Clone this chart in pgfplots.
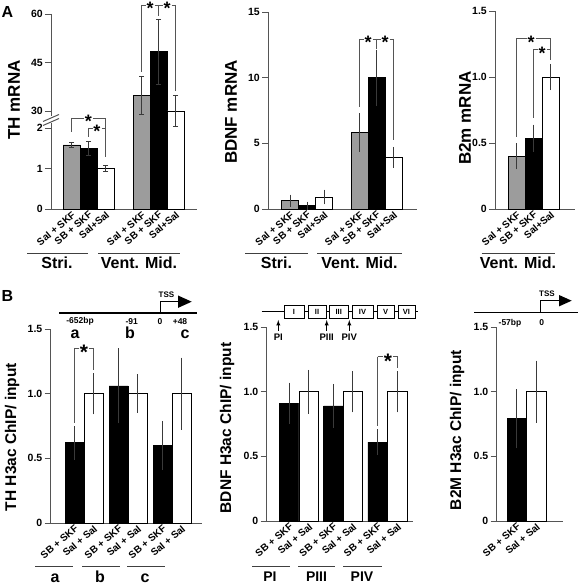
\documentclass[border=0pt]{standalone}
\usepackage{fontspec}
\setmainfont{Liberation Sans}
\usepackage{pgfplots}
\pgfplotsset{compat=1.18}
\definecolor{axgray}{HTML}{555555}
\definecolor{bargray}{HTML}{9C9C9C}
\definecolor{errgray}{HTML}{3A3A3A}
\pgfplotsset{
  panel/.style={
    scale only axis, anchor=south west, clip=false,
    axis x line*=bottom, axis y line*=left,
    axis line style={draw=axgray, line width=0.9pt},
    ytick align=outside, major tick length=6pt,
    ytick style={draw=axgray, line width=0.9pt},
    xtick style={draw=none},
    /pgf/number format/assume math mode=true,
    yticklabel style={font=\fontsize{10.5}{11}\selectfont\bfseries, inner sep=2pt},
    xticklabel style={font=\fontsize{10}{10}\selectfont\bfseries, rotate=40, anchor=north east, inner sep=1pt},
  },
  bars/.style={ybar, bar shift=0pt, draw=black, line width=0.7pt},
  ebar/.style={error bars/.cd, y dir=both, y explicit,
     error bar style={draw=errgray, line width=0.8pt},
     error mark options={draw=errgray, line width=0.8pt, mark size=2.5pt}},
  eline/.style={draw=errgray, line width=0.8pt, mark=-, mark size=2.5pt, mark options={solid, draw=errgray, line width=0.8pt}},
}
\newcommand{\eline}[3]{\addplot[eline] coordinates {(#1,#2) (#1,#3)};}
\tikzset{
  brk/.style={draw=axgray, line width=0.8pt},
  ul/.style={draw=black!75, line width=0.9pt},
  starA/.style={font=\fontsize{18}{18}\selectfont\bfseries, inner sep=0pt},
  starB/.style={font=\fontsize{21}{21}\selectfont\bfseries, inner sep=0pt},
  glab/.style={font=\fontsize{16}{16}\selectfont\bfseries, anchor=base},
  ylabA/.style={rotate=90, font=\fontsize{17}{17}\selectfont\bfseries},
  ylabB/.style={rotate=90, font=\fontsize{15.5}{15.5}\selectfont\bfseries},
  small/.style={font=\fontsize{8.5}{8.5}\selectfont\bfseries, inner sep=0pt},
}
% bracket: x1 x2 y xstar
\newcommand{\hbr}[4]{\draw[brk] (#1,#3)--({#4-4.5},#3) ({#4+4.5},#3)--(#2,#3); \node[starA] at (#4,{#3+3.8}) {*};}
\newcommand{\hbrB}[4]{\draw[brk] (#1,#3)--({#4-5},#3) ({#4+5},#3)--(#2,#3); \node[starB] at (#4,{#3+4.4}) {*};}
\begin{document}
\begin{tikzpicture}
\useasboundingbox (0,0) rectangle (580pt,585pt);

% ---------------- Panel A: TH mRNA (broken axis)
\begin{axis}[panel, at={(51pt,376pt)}, width=146pt, height=195pt,
  xmin=51, xmax=197, ymin=0, ymax=60,
  y coord trafo/.code={\pgfmathparse{(#1>3)*(2.42+(#1-30)*0.0798)+(#1<=3)*(#1)}},
  ytick={0,1,2,30,45,60}, yticklabels={0,1,2,30,45,60},
  y axis line style={draw=none},
  xtick={71.5,88.5,105.5,141.5,158.5,175.5},
  xticklabels={Sal + SKF,SB + SKF,Sal+Sal,Sal + SKF,SB + SKF,Sal+Sal},
]
\addplot[bars, bar width=17, fill=bargray] coordinates {(71.5,1.58) (141.5,34.9)};
\addplot[bars, bar width=17, fill=black] coordinates {(88.5,1.50) (158.5,48.3)};
\addplot[bars, bar width=17, fill=white] coordinates {(105.5,1.01) (175.5,30.0)};
\eline{71.5}{1.52}{1.64}
\eline{88.5}{1.33}{1.67}
\eline{105.5}{0.94}{1.08}
\eline{141.5}{29.0}{40.6}
\eline{158.5}{38.2}{58.4}
\eline{175.5}{25.3}{34.8}
\end{axis}

% ---------------- Panel A: BDNF mRNA
\begin{axis}[panel, at={(268pt,376pt)}, width=149pt, height=197pt,
  xmin=268, xmax=417, ymin=0, ymax=15,
  ytick={0,5,10,15}, yticklabels={0,5,10,15},
  xtick={290,307,324,359.5,376.5,393.5},
  xticklabels={Sal + SKF,SB + SKF,Sal+Sal,Sal + SKF,SB + SKF,Sal+Sal},
]
\addplot[bars, bar width=17, fill=bargray, ebar] coordinates {(290,0.63) +- (0,0.27) (359.5,5.83) +- (0,1.28)};
\addplot[bars, bar width=17, fill=black, ebar] coordinates {(307,0.25) +- (0,0.12) (376.5,10.0) +- (0,1.95)};
\addplot[bars, bar width=17, fill=white, ebar] coordinates {(324,0.92) +- (0,0.37) (393.5,3.93) +- (0,0.6)};
\end{axis}

% ---------------- Panel A: B2m mRNA
\begin{axis}[panel, at={(495pt,376pt)}, width=80pt, height=198pt,
  xmin=495, xmax=575, ymin=0, ymax=1.5,
  ytick={0,0.5,1,1.5}, yticklabels={0,0.5,1.0,1.5},
  xtick={516.5,533.5,550.5},
  xticklabels={Sal + SKF,SB + SKF,Sal+Sal},
]
\addplot[bars, bar width=17, fill=bargray, ebar] coordinates {(516.5,0.40) +- (0,0.08)};
\addplot[bars, bar width=17, fill=black, ebar] coordinates {(533.5,0.535) +- (0,0.085)};
\addplot[bars, bar width=17, fill=white, ebar] coordinates {(550.5,1.0) +- (0,0.08)};
\end{axis}

% ---------------- Panel B: TH H3ac
\begin{axis}[panel, at={(50.5pt,62pt)}, width=151pt, height=194pt,
  xmin=50.5, xmax=201.5, ymin=0, ymax=1.5,
  ytick={0,0.5,1,1.5}, yticklabels={0,0.5,1.0,1.5},
  xtick={74.5,93.5,118.5,137.5,162.5,181.5},
  xticklabels={SB + SKF,Sal + Sal,SB + SKF,Sal + Sal,SB + SKF,Sal + Sal},
]
\addplot[bars, bar width=19, fill=black, ebar] coordinates {(74.5,0.62) +- (0,0.11) (118.5,1.06) +- (0,0.27) (162.5,0.60) +- (0,0.17)};
\addplot[bars, bar width=19, fill=white, ebar] coordinates {(93.5,1.0) +- (0,0.14) (137.5,1.0) +- (0,0.13) (181.5,1.0) +- (0,0.26)};
\end{axis}

% ---------------- Panel B: BDNF H3ac
\begin{axis}[panel, at={(266.5pt,64pt)}, width=146.5pt, height=194pt,
  xmin=266.5, xmax=413, ymin=0, ymax=1.5,
  ytick={0,0.5,1,1.5}, yticklabels={0,0.5,1.0,1.5},
  xtick={289.3,308.7,333.3,352.8,377.7,397.5},
  xticklabels={SB + SKF,Sal + Sal,SB + SKF,Sal + Sal,SB + SKF,Sal + Sal},
]
\addplot[bars, bar width=19.5, fill=black, ebar] coordinates {(289.3,0.91) +- (0,0.14) (333.3,0.89) +- (0,0.15) (377.7,0.61) +- (0,0.08)};
\addplot[bars, bar width=19.5, fill=white, ebar] coordinates {(308.7,1.0) +- (0,0.15) (352.8,1.0) +- (0,0.14) (397.5,1.0) +- (0,0.14)};
\end{axis}

% ---------------- Panel B: B2M H3ac
\begin{axis}[panel, at={(496.5pt,64pt)}, width=66.5pt, height=194pt,
  xmin=496.5, xmax=563, ymin=0, ymax=1.5,
  ytick={0,0.5,1,1.5}, yticklabels={0,0.5,1.0,1.5},
  xtick={516.7,536.3},
  xticklabels={SB + SKF,Sal + Sal},
]
\addplot[bars, bar width=19.5, fill=black, ebar] coordinates {(516.7,0.79) +- (0,0.21)};
\addplot[bars, bar width=19.5, fill=white, ebar] coordinates {(536.3,1.0) +- (0,0.22)};
\end{axis}

% ---------------- annotations in pixel coordinates
\begin{scope}[x=1pt, y=-1pt, shift={(0pt,585pt)}]
\node[font=\fontsize{16}{16}\selectfont\bfseries] at (7.5,12.5) {A};
\node[font=\fontsize{16}{16}\selectfont\bfseries] at (7.5,296.5) {B};

\node[ylabA] at (14,100) {TH mRNA};
\node[ylabA] at (231,112) {BDNF mRNA};
\node[ylabA] at (465,118) {B2m mRNA};
\node[ylabB] at (12,437) {TH H3ac ChIP/ input};
\node[ylabB] at (227,428) {BDNF H3ac ChIP/ input};
\node[ylabB] at (457,430) {B2M H3ac ChIP/ input};

% TH broken y axis
\draw[axgray, line width=0.9pt] (51,14)--(51,116.5) (51,123.5)--(51,209);
\draw[axgray, line width=1pt] (43,121.5)--(59,114.5) (43,125.5)--(59,118.5);

% brackets panel A TH
\hbr{71.5}{105.5}{118}{88.5}
\draw[brk] (71.5,118)--(71.5,132) (105.5,118)--(105.5,157);
\hbr{88.5}{105.5}{128}{97}
\draw[brk] (88.5,128)--(88.5,137);
\draw[brk] (141.5,5)--(145.5,5) (154.5,5)--(162.5,5) (171.5,5)--(175.5,5);
\node[starA] at (150,8.8) {*};
\node[starA] at (167,8.8) {*};
\draw[brk] (141.5,5)--(141.5,72) (158.5,5)--(158.5,16) (175.5,5)--(175.5,91);

% brackets panel A BDNF
\draw[brk] (359.5,39)--(363.5,39) (372.5,39)--(380.5,39) (389.5,39)--(393.5,39);
\node[starA] at (368,42.8) {*};
\node[starA] at (385,42.8) {*};
\draw[brk] (359.5,39)--(359.5,107) (376.5,39)--(376.5,49) (393.5,39)--(393.5,140);

% brackets panel A B2m
\hbr{516.5}{550.5}{38.5}{531}
\draw[brk] (516.5,38.5)--(516.5,137) (550.5,38.5)--(550.5,60);
\hbr{533.5}{550.5}{49.5}{542}
\draw[brk] (533.5,49.5)--(533.5,118);

% brackets panel B
\hbrB{74.5}{93.5}{348}{84}
\draw[brk] (74.5,348)--(74.5,423) (93.5,348)--(93.5,370);
\hbrB{377.7}{397.5}{356.7}{388}
\draw[brk] (377.7,356.7)--(377.7,426) (397.5,356.7)--(397.5,368);

% group labels panel A
\draw[ul] (27,253)--(88,253) (98,253)--(180,253);
\node[glab] at (57,269) {Stri.};
\node[glab] at (139,269) {Vent. Mid.};
\draw[ul] (245,253)--(308,253) (317,253)--(402,253);
\node[glab] at (276.5,269) {Stri.};
\node[glab] at (359.5,269) {Vent. Mid.};
\draw[ul] (481.5,253)--(555,253);
\node[glab] at (518,269) {Vent. Mid.};

% group labels panel B
\draw[ul] (35,566)--(73,566) (82,566)--(120,566) (127,566)--(165,566);
\node[glab] at (55,583) {a};
\node[glab] at (100,583) {b};
\node[glab] at (145,583) {c};
\draw[ul] (252,566)--(290,566) (298,566)--(335,566) (343,566)--(382,566);
\node[glab, font=\fontsize{14}{14}\selectfont\bfseries] at (270,582) {PI};
\node[glab, font=\fontsize{14}{14}\selectfont\bfseries] at (316.5,582) {PIII};
\node[glab, font=\fontsize{14}{14}\selectfont\bfseries] at (362,582) {PIV};

% gene diagram TH
\draw[line width=1.1pt] (59,313)--(197,313);
\draw[line width=1.1pt] (160.7,313)--(160.7,301.7)--(179,301.7);
\fill (178,295.5)--(191.7,301.7)--(178,307.9)--cycle;
\node[small, font=\fontsize{8}{8}\selectfont\bfseries] at (166.5,295) {TSS};
\node[small] at (80,321.5) {-652bp};
\node[small] at (131.7,321.5) {-91};
\node[small] at (160,321.5) {0};
\node[small] at (180,321.5) {+48};
\node[glab] at (75,338.5) {a};
\node[glab] at (130,338.5) {b};
\node[glab] at (185,338.5) {c};

% gene diagram BDNF
\draw[line width=1.1pt] (261.7,311.7)--(418,311.7);
\foreach \a/\b/\t in {284/304/I, 308/326/II, 329.5/348/III, 352/373/IV, 377/394/V, 398/415/VI}{
  \draw[fill=white, line width=0.9pt] (\a,305.5) rectangle (\b,318);
  \node[small, font=\fontsize{7.5}{7.5}\selectfont\bfseries] at ({(\a+\b)/2},311.8) {\t};
}
\foreach \x in {278.3, 326.7, 349.3}{
  \draw[line width=0.9pt, -latex] (\x,331)--(\x,320);
}
\node[small, font=\fontsize{9.5}{9.5}\selectfont\bfseries] at (278.3,337.5) {PI};
\node[small, font=\fontsize{9.5}{9.5}\selectfont\bfseries] at (326.7,337.5) {PIII};
\node[small, font=\fontsize{9.5}{9.5}\selectfont\bfseries] at (349.3,337.5) {PIV};

% gene diagram B2M
\draw[line width=1.1pt] (474,312.3)--(578,312.3);
\draw[line width=1.1pt] (540.7,312.3)--(540.7,300.7)--(560,300.7);
\fill (559,295)--(571.7,300.7)--(559,306.4)--cycle;
\node[small, font=\fontsize{8}{8}\selectfont\bfseries] at (547,293.5) {TSS};
\node[small] at (510,323) {-57bp};
\node[small] at (541.7,323) {0};
\end{scope}
\end{tikzpicture}
\end{document}
